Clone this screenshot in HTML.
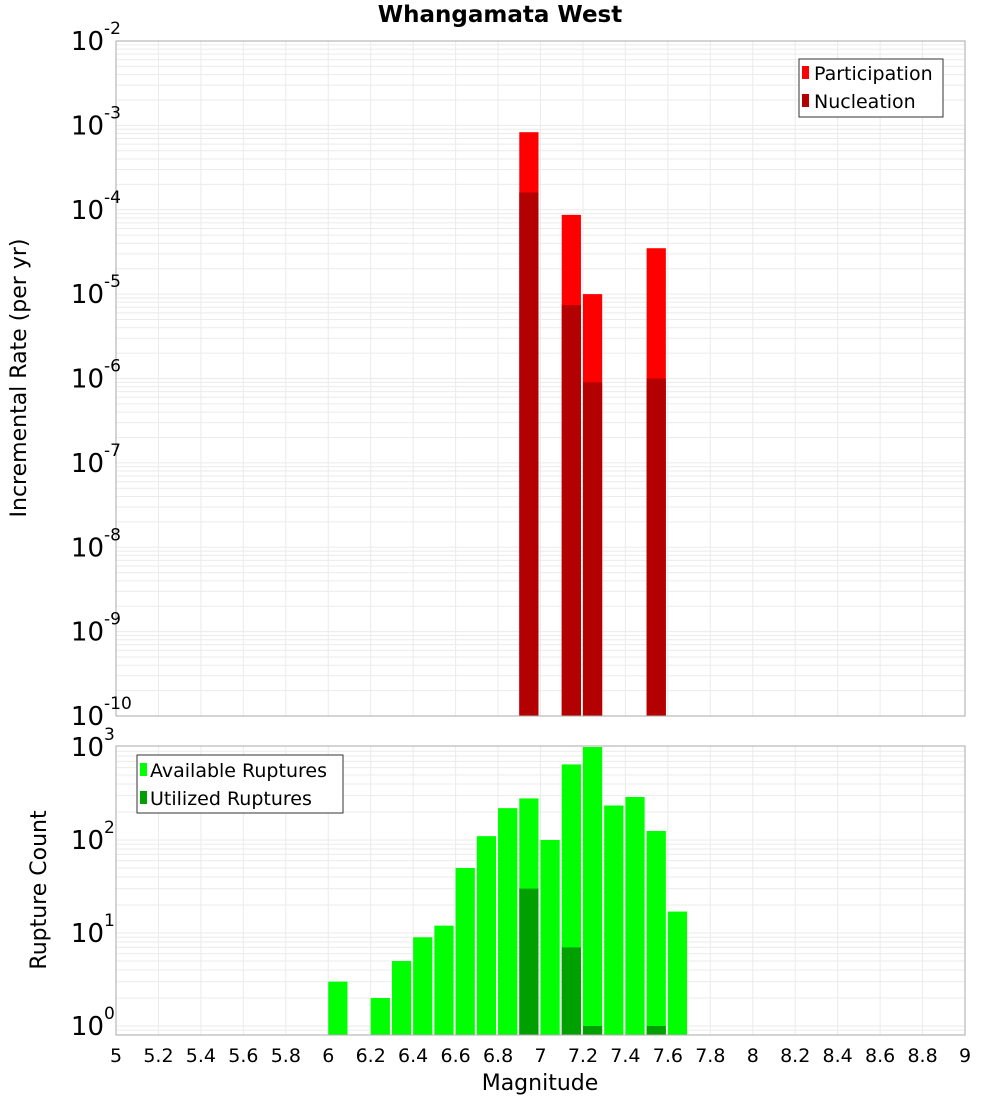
<!DOCTYPE html>
<html><head><meta charset="utf-8"><style>
body{margin:0;background:#fff;width:1000px;height:1100px;overflow:hidden}
svg text{font-family:"DejaVu Sans","Liberation Sans",sans-serif}
</style></head><body>
<svg id="chart" width="1000" height="1100" xmlns="http://www.w3.org/2000/svg">
<text x="500" y="22" text-anchor="middle" font-size="23" font-weight="bold">Whangamata West</text>
<g id="topPlot"></g>
<g id="botPlot"></g>
<text transform="translate(26,378) rotate(-90)" text-anchor="middle" font-size="22">Incremental Rate (per yr)</text>
<text transform="translate(46,890) rotate(-90)" text-anchor="middle" font-size="22">Rupture Count</text>
<text x="540" y="1090" text-anchor="middle" font-size="22">Magnitude</text>
<g>
<rect x="799" y="59" width="144" height="58" fill="#fff" stroke="#333"/>
<rect x="802" y="66" width="7" height="13" fill="#ff0000"/><text x="814" y="80" font-size="19">Participation</text>
<rect x="802" y="94" width="7" height="13" fill="#b30000"/><text x="814" y="108" font-size="19">Nucleation</text>
</g>
<g>
<rect x="137" y="755" width="206" height="58" fill="#fff" stroke="#333"/>
<rect x="140" y="763" width="7" height="13" fill="#00ff00"/><text x="150" y="777" font-size="19">Available Ruptures</text>
<rect x="140" y="791" width="7" height="13" fill="#00a000"/><text x="150" y="805" font-size="19">Utilized Ruptures</text>
</g>
</svg>
<script>
const rateMags=[6.95,7.15,7.25,7.55];
const participation=[8.3e-4,8.7e-5,1.0e-5,3.5e-5];
const nucleation=[1.6e-4,7.4e-6,9e-7,1.0e-6];
const countMags=[6.05,6.25,6.35,6.45,6.55,6.65,6.75,6.85,6.95,7.05,7.15,7.25,7.35,7.45,7.55,7.65];
const available=[3,2,5,9,12,50,110,220,280,100,650,1000,235,290,125,17];
const utilizedMags=[6.95,7.15,7.25,7.55];
const utilized=[30,7,1,1];
const xTicks=[5,5.2,5.4,5.6,5.8,6,6.2,6.4,6.6,6.8,7,7.2,7.4,7.6,7.8,8,8.2,8.4,8.6,8.8,9];
const rateExps=[-2,-3,-4,-5,-6,-7,-8,-9,-10];
const countExps=[3,2,1,0];
const NS='http://www.w3.org/2000/svg';
const L=116,R=965;
const X=m=>L+(m-5)*(R-L)/4;
const Yt=v=>41+(-2-Math.log10(v))*(716-41)/8;
const Yb=v=>1026-Math.log10(v)*93;
function mk(p,t,a){const e=document.createElementNS(NS,t);for(const k in a)e.setAttribute(k,a[k]);p.appendChild(e);return e;}
const gTop=document.getElementById('topPlot'),gBot=document.getElementById('botPlot');
function grid(g,y0,y1,yf,lo,hi){
  mk(g,'rect',{x:L,y:y0,width:R-L,height:y1-y0,fill:'#fff'});
  for(const t of xTicks){const x=X(t);const l=mk(g,'line',{x1:x,x2:x,y1:y0,y2:y1,stroke:'#ebebeb'});
  
  }
  for(let e=lo;e<hi;e++)for(let k=1;k<10;k++){const y=yf(k*Math.pow(10,e));if(y<y0||y>y1)continue;
  const l=mk(g,'line',{x1:L,x2:R,y1:y,y2:y,stroke:'#ebebeb'});
  
  }
}
grid(gTop,41,716,Yt,-10,-2);
grid(gBot,746,1035,Yb,-1,3);
function bar(g,m,v,yf,base,fill,name){const x0=X(m-0.05),x1=X(m+0.05)-2;const y=Math.max(yf(v),0);
  const r=mk(g,'rect',{x:x0,y:y,width:x1-x0,height:base-y,fill:fill});
  
  }
rateMags.forEach((m,i)=>bar(gTop,m,participation[i],Yt,716,'#ff0000','participation-bar'));
rateMags.forEach((m,i)=>bar(gTop,m,nucleation[i],Yt,716,'#b30000','nucleation-bar'));
countMags.forEach((m,i)=>bar(gBot,m,available[i],Yb,1035,'#00ff00','available-bar'));
utilizedMags.forEach((m,i)=>bar(gBot,m,utilized[i],Yb,1035,'#00a000','utilized-bar'));
mk(gTop,'rect',{x:L,y:41,width:R-L,height:675,fill:'none',stroke:'#aaa'});
mk(gBot,'rect',{x:L,y:746,width:R-L,height:289,fill:'none',stroke:'#aaa'});
function ylab(g,e,y){const t=mk(g,'text',{x:104,y:y+9,'text-anchor':'end','font-size':26});
  t.textContent='10';
  
  
  const s=mk(g,'text',{x:104,y:y-7,'font-size':17});s.textContent=String(e);
  
  }
rateExps.forEach(e=>ylab(gTop,e,Yt(Math.pow(10,e))));
countExps.forEach(e=>ylab(gBot,e,Yb(Math.pow(10,e))));
xTicks.forEach(t=>{const e=mk(gBot,'text',{x:X(t),y:1062,'text-anchor':'middle','font-size':19});
  e.textContent=String(t);
  
  });
</script>
</body></html>
